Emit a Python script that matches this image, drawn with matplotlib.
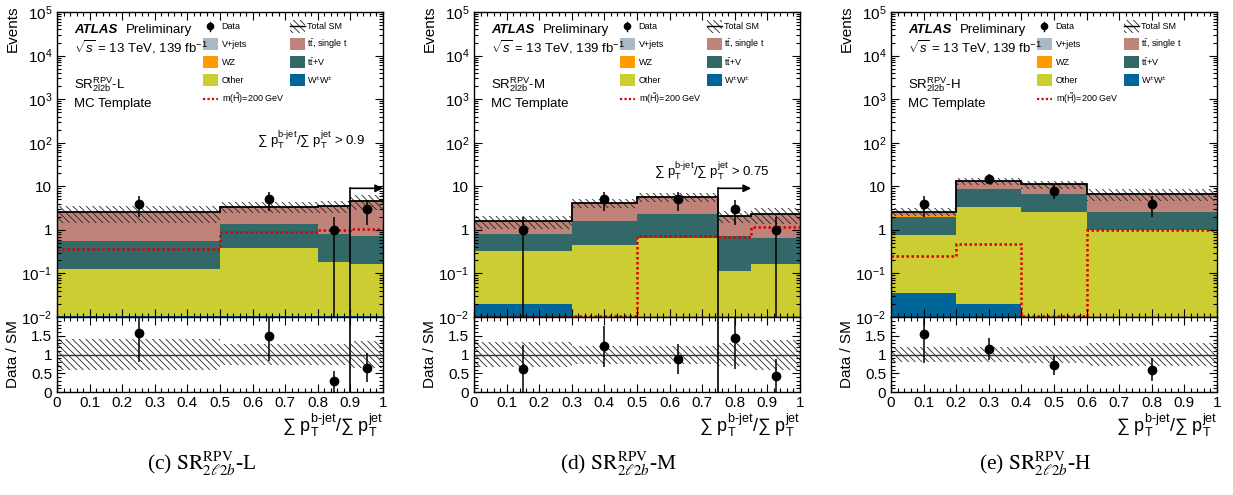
import numpy as np
import matplotlib.pyplot as plt
from matplotlib.patches import Rectangle
from matplotlib.ticker import FixedLocator, FuncFormatter, MultipleLocator, LogLocator, NullFormatter

plt.rcParams["font.family"] = ["Liberation Sans", "DejaVu Sans"]
plt.rcParams["mathtext.fontset"] = "custom"
plt.rcParams["mathtext.rm"] = "Liberation Sans"
plt.rcParams["mathtext.it"] = "Liberation Sans:italic"
plt.rcParams["mathtext.bf"] = "Liberation Sans:bold"
plt.rcParams["hatch.linewidth"] = 0.6

# ---- SR-L ----
edges_L = [0.0, 0.5, 0.8, 0.9, 1.0]
ww_L = [0.0105, 0.0105, 0.0103, 0.0103]
other_L = [0.118, 0.375, 0.174, 0.156]
ttv_L = [0.427, 0.984, 0.636, 0.564]
wz_L = [0.0, 0.0, 0.0, 0.0]
ttbar_L = [1.98, 1.98, 2.68, 3.87]
vjets_L = [0.0, 0.0, 0.0, 0.0]
signal_L = [0.36, 0.88, 1.0, 1.05]
data_L = [4, 5, 1, 3]
unc_L = [0.42, 0.29, 0.29, 0.37]
cut_L = 0.9

# ---- SR-M ----
edges_M = [0.0, 0.3, 0.5, 0.75, 0.85, 1.0]
ww_M = [0.0195, 0.004, 0.003, 0.002, 0.002]
other_M = [0.3155, 0.446, 0.642, 0.114, 0.164]
ttv_M = [0.465, 1.15, 1.655, 0.624, 0.484]
wz_M = [0.0, 0.0, 0.0, 0.0, 0.0]
ttbar_M = [0.8, 2.5, 3.3, 1.33, 1.62]
vjets_M = [0.0, 0.0, 0.0, 0.0, 0.0]
signal_M = [0.0, 0.0, 0.74, 0.68, 1.19]
data_M = [1, 5, 5, 3, 1]
unc_M = [0.33, 0.24, 0.24, 0.3, 0.4]
cut_M = 0.75

# ---- SR-H ----
edges_H = [0.0, 0.2, 0.4, 0.6, 1.0]
ww_H = [0.035, 0.02, 0.004, 0.003]
other_H = [0.735, 3.38, 2.6, 1.0]
ttv_H = [1.25, 5.3, 4.2, 1.63]
wz_H = [0.15, 0.0, 0.0, 0.0]
ttbar_H = [0.43, 4.4, 4.3, 4.07]
vjets_H = [0.0, 0.0, 0.0, 0.0]
signal_H = [0.25, 0.48, 0.0, 0.97]
data_H = [4, 15, 8, 4]
unc_H = [0.2, 0.2, 0.22, 0.3]

colors = {
    "vjets": "#a9bac6",
    "ttbar": "#c0837a",
    "wz": "#ff9a00",
    "ttv": "#336868",
    "other": "#cccc33",
    "ww": "#006699",
}
HATCH = "\\" * 5
XLABEL = r"$\sum\ \mathrm{p}_{\mathrm{T}}^{\text{b-jet}}/\sum\ \mathrm{p}_{\mathrm{T}}^{\mathrm{jet}}$"


def log_label(v, pos):
    if np.isclose(v, 1):
        return "1"
    if np.isclose(v, 10):
        return "10"
    return r"$10^{%d}$" % round(np.log10(v))


def style_axes(ax):
    ax.tick_params(which="both", direction="in", top=True, right=True, labelsize=11, width=0.8)
    ax.tick_params(which="major", length=6)
    ax.tick_params(which="minor", length=3)
    for s in ax.spines.values():
        s.set_linewidth(1.0)


def draw_legend(ax):
    fs = 6.5
    bw, bh = 0.047, 0.04
    c1_box, c1_txt = 0.447, 0.505
    c2_box, c2_txt = 0.715, 0.767
    rows = [0.953, 0.894, 0.836, 0.776, 0.716]
    tr = ax.transAxes

    # column 1
    ax.plot([c1_box + bw / 2], [rows[0]], "o", color="k", ms=4.5, transform=tr, clip_on=False)
    ax.plot([c1_box + bw / 2] * 2, [rows[0] - 0.015, rows[0] + 0.015], color="k", lw=1,
            transform=tr, clip_on=False)
    ax.text(c1_txt, rows[0], "Data", fontsize=fs, va="center", transform=tr)
    for row, key, label in [(1, "vjets", "V+jets"), (2, "wz", "WZ"), (3, "other", "Other")]:
        ax.add_patch(Rectangle((c1_box, rows[row] - bh / 2), bw, bh, facecolor=colors[key],
                               edgecolor="none", transform=tr, clip_on=False))
        ax.text(c1_txt, rows[row], label, fontsize=fs, va="center", transform=tr)
    ax.plot([c1_box, c1_box + bw], [rows[4]] * 2, color="#dd0000", lw=1.6,
            linestyle=(0, (1, 1)), transform=tr, clip_on=False)
    ax.text(c1_txt, rows[4], r"m($\tilde{\mathrm{H}}$)=200 GeV", fontsize=fs, va="center", transform=tr)

    # column 2
    ax.add_patch(Rectangle((c2_box, rows[0] - bh / 2), bw, bh, fill=False, hatch=HATCH,
                           edgecolor="#222222", linewidth=0, transform=tr, clip_on=False))
    ax.plot([c2_box, c2_box + bw], [rows[0]] * 2, color="k", lw=1, transform=tr, clip_on=False)
    ax.text(c2_txt, rows[0], "Total SM", fontsize=fs, va="center", transform=tr)
    for row, key, label in [(1, "ttbar", r"$\mathrm{t\bar{t}}$, single t"),
                            (2, "ttv", r"$\mathrm{t\bar{t}}$+V"),
                            (3, "ww", r"W$^{\pm}$W$^{\pm}$")]:
        ax.add_patch(Rectangle((c2_box, rows[row] - bh / 2), bw, bh, facecolor=colors[key],
                               edgecolor="none", transform=tr, clip_on=False))
        ax.text(c2_txt, rows[row], label, fontsize=fs, va="center", transform=tr)


def draw_panel(fig, left, edges, ww, other, ttv, wz, ttbar, vjets, signal, data, unc,
               region, letter, cut=None, cut_text_pos=None):
    width = 326 / 1233
    ax = fig.add_axes([left, 0.3596, width, 0.616])
    axr = fig.add_axes([left, 0.208, width, 0.1515])

    edges = np.array(edges)
    lefts = edges[:-1]
    widths = np.diff(edges)
    centers = lefts + widths / 2

    # stack, bottom to top
    bottom = np.full(len(lefts), 1e-4)
    for key, vals in [("ww", ww), ("other", other), ("ttv", ttv), ("wz", wz),
                      ("ttbar", ttbar), ("vjets", vjets)]:
        vals = np.array(vals)
        ax.bar(lefts, vals, width=widths, bottom=bottom, align="edge",
               color=colors[key], linewidth=0)
        bottom = bottom + vals
    total = bottom

    unc = np.array(unc)
    ax.bar(lefts, 2 * unc * total, width=widths, bottom=total * (1 - unc), align="edge",
           fill=False, hatch=HATCH, edgecolor="#222222", linewidth=0)
    ax.stairs(total, edges, baseline=None, color="k", lw=1.3)

    sig = np.maximum(np.array(signal), 1.03e-2)
    ax.stairs(sig, edges, baseline=None, color="#dd0000", lw=1.8, linestyle=(0, (1, 1)))

    data = np.array(data, dtype=float)
    ax.errorbar(centers, data, yerr=np.sqrt(data), fmt="o", color="k", ms=6,
                elinewidth=1.1, capsize=0)

    ax.set_yscale("log")
    ax.set_xlim(0, 1)
    ax.set_ylim(1e-2, 1e5)
    ax.yaxis.set_major_locator(FixedLocator([1e-2, 1e-1, 1, 10, 1e2, 1e3, 1e4, 1e5]))
    ax.yaxis.set_major_formatter(FuncFormatter(log_label))
    ax.yaxis.set_minor_locator(LogLocator(base=10, subs=np.arange(2, 10), numticks=20))
    ax.yaxis.set_minor_formatter(NullFormatter())
    ax.xaxis.set_major_locator(MultipleLocator(0.1))
    ax.xaxis.set_minor_locator(MultipleLocator(0.02))
    style_axes(ax)
    ax.tick_params(labelbottom=False)
    ax.set_ylabel("Events", loc="top", fontsize=11)
    ax.yaxis.set_label_coords(-0.115, 1.02)

    tr = ax.transAxes
    ax.text(0.052, 0.941, "ATLAS", fontsize=9.5, fontweight="bold", fontstyle="italic",
            va="center", transform=tr)
    ax.text(0.212, 0.941, "Preliminary", fontsize=9.5, va="center", transform=tr)
    ax.text(0.052, 0.886, r"$\sqrt{s}$ = 13 TeV, 139 fb$^{-1}$", fontsize=9.5,
            va="center", transform=tr)
    ax.text(0.052, 0.762, r"$\mathrm{SR}^{\mathrm{RPV}}_{\mathrm{2l2b}}$-" + region,
            fontsize=9.5, va="center", transform=tr)
    ax.text(0.052, 0.700, "MC Template", fontsize=9.5, va="center", transform=tr)
    draw_legend(ax)

    # ratio panel
    ratio = data / total
    ratio_err = np.sqrt(data) / total
    axr.bar(lefts, 2 * unc, width=widths, bottom=1 - unc, align="edge",
            fill=False, hatch=HATCH, edgecolor="#222222", linewidth=0)
    axr.axhline(1, color="#333333", lw=1)
    axr.errorbar(centers, ratio, yerr=ratio_err, fmt="o", color="k", ms=6,
                 elinewidth=1.1, capsize=0)
    axr.set_xlim(0, 1)
    axr.set_ylim(0, 2)
    axr.yaxis.set_major_locator(FixedLocator([0, 0.5, 1, 1.5, 2]))
    axr.yaxis.set_major_formatter(FuncFormatter(lambda v, p: "" if v > 1.9 else "%g" % v))
    axr.yaxis.set_minor_locator(MultipleLocator(0.1))
    axr.xaxis.set_major_locator(MultipleLocator(0.1))
    axr.xaxis.set_minor_locator(MultipleLocator(0.02))
    axr.xaxis.set_major_formatter(FuncFormatter(lambda v, p: "%g" % round(v, 2)))
    style_axes(axr)
    axr.tick_params(axis="x", pad=3)
    axr.set_ylabel("Data / SM", fontsize=11)
    axr.yaxis.set_label_coords(-0.115, 0.5)
    axr.set_xlabel(XLABEL, loc="right", fontsize=13, labelpad=1)

    # cut line and arrow
    if cut is not None:
        arrow_y = 9.0
        ax.plot([cut, cut], [1e-2, arrow_y], color="k", lw=1.2)
        ax.annotate("", xy=(cut + 0.1, arrow_y), xytext=(cut, arrow_y),
                    arrowprops=dict(arrowstyle="-|>", color="k", lw=1.2, mutation_scale=11,
                                    shrinkA=0, shrinkB=0))
        axr.axvline(cut, color="k", lw=1.2)
        tx, ty, ha = cut_text_pos
        ax.text(tx, ty, XLABEL + " > %g" % cut, fontsize=9.5, ha=ha, va="center", transform=tr)

    fig.text(left + 0.443 * width, 0.062,
             "(%s) " % letter + r"$\mathrm{SR}^{\mathrm{RPV}}_{2\ell 2b}$-" + region,
             fontsize=15.5, ha="center", va="center", family="Liberation Serif",
             math_fontfamily="stix")
    return ax, axr


fig = plt.figure(figsize=(12.33, 4.95), dpi=100)
draw_panel(fig, 57 / 1233, edges_L, ww_L, other_L, ttv_L, wz_L, ttbar_L, vjets_L,
           signal_L, data_L, unc_L, "L", "c", cut=cut_L, cut_text_pos=(0.945, 0.58, "right"))
draw_panel(fig, 474 / 1233, edges_M, ww_M, other_M, ttv_M, wz_M, ttbar_M, vjets_M,
           signal_M, data_M, unc_M, "M", "d", cut=cut_M, cut_text_pos=(0.73, 0.48, "center"))
draw_panel(fig, 891 / 1233, edges_H, ww_H, other_H, ttv_H, wz_H, ttbar_H, vjets_H,
           signal_H, data_H, unc_H, "H", "e")

fig.savefig("out.png", dpi=100)
